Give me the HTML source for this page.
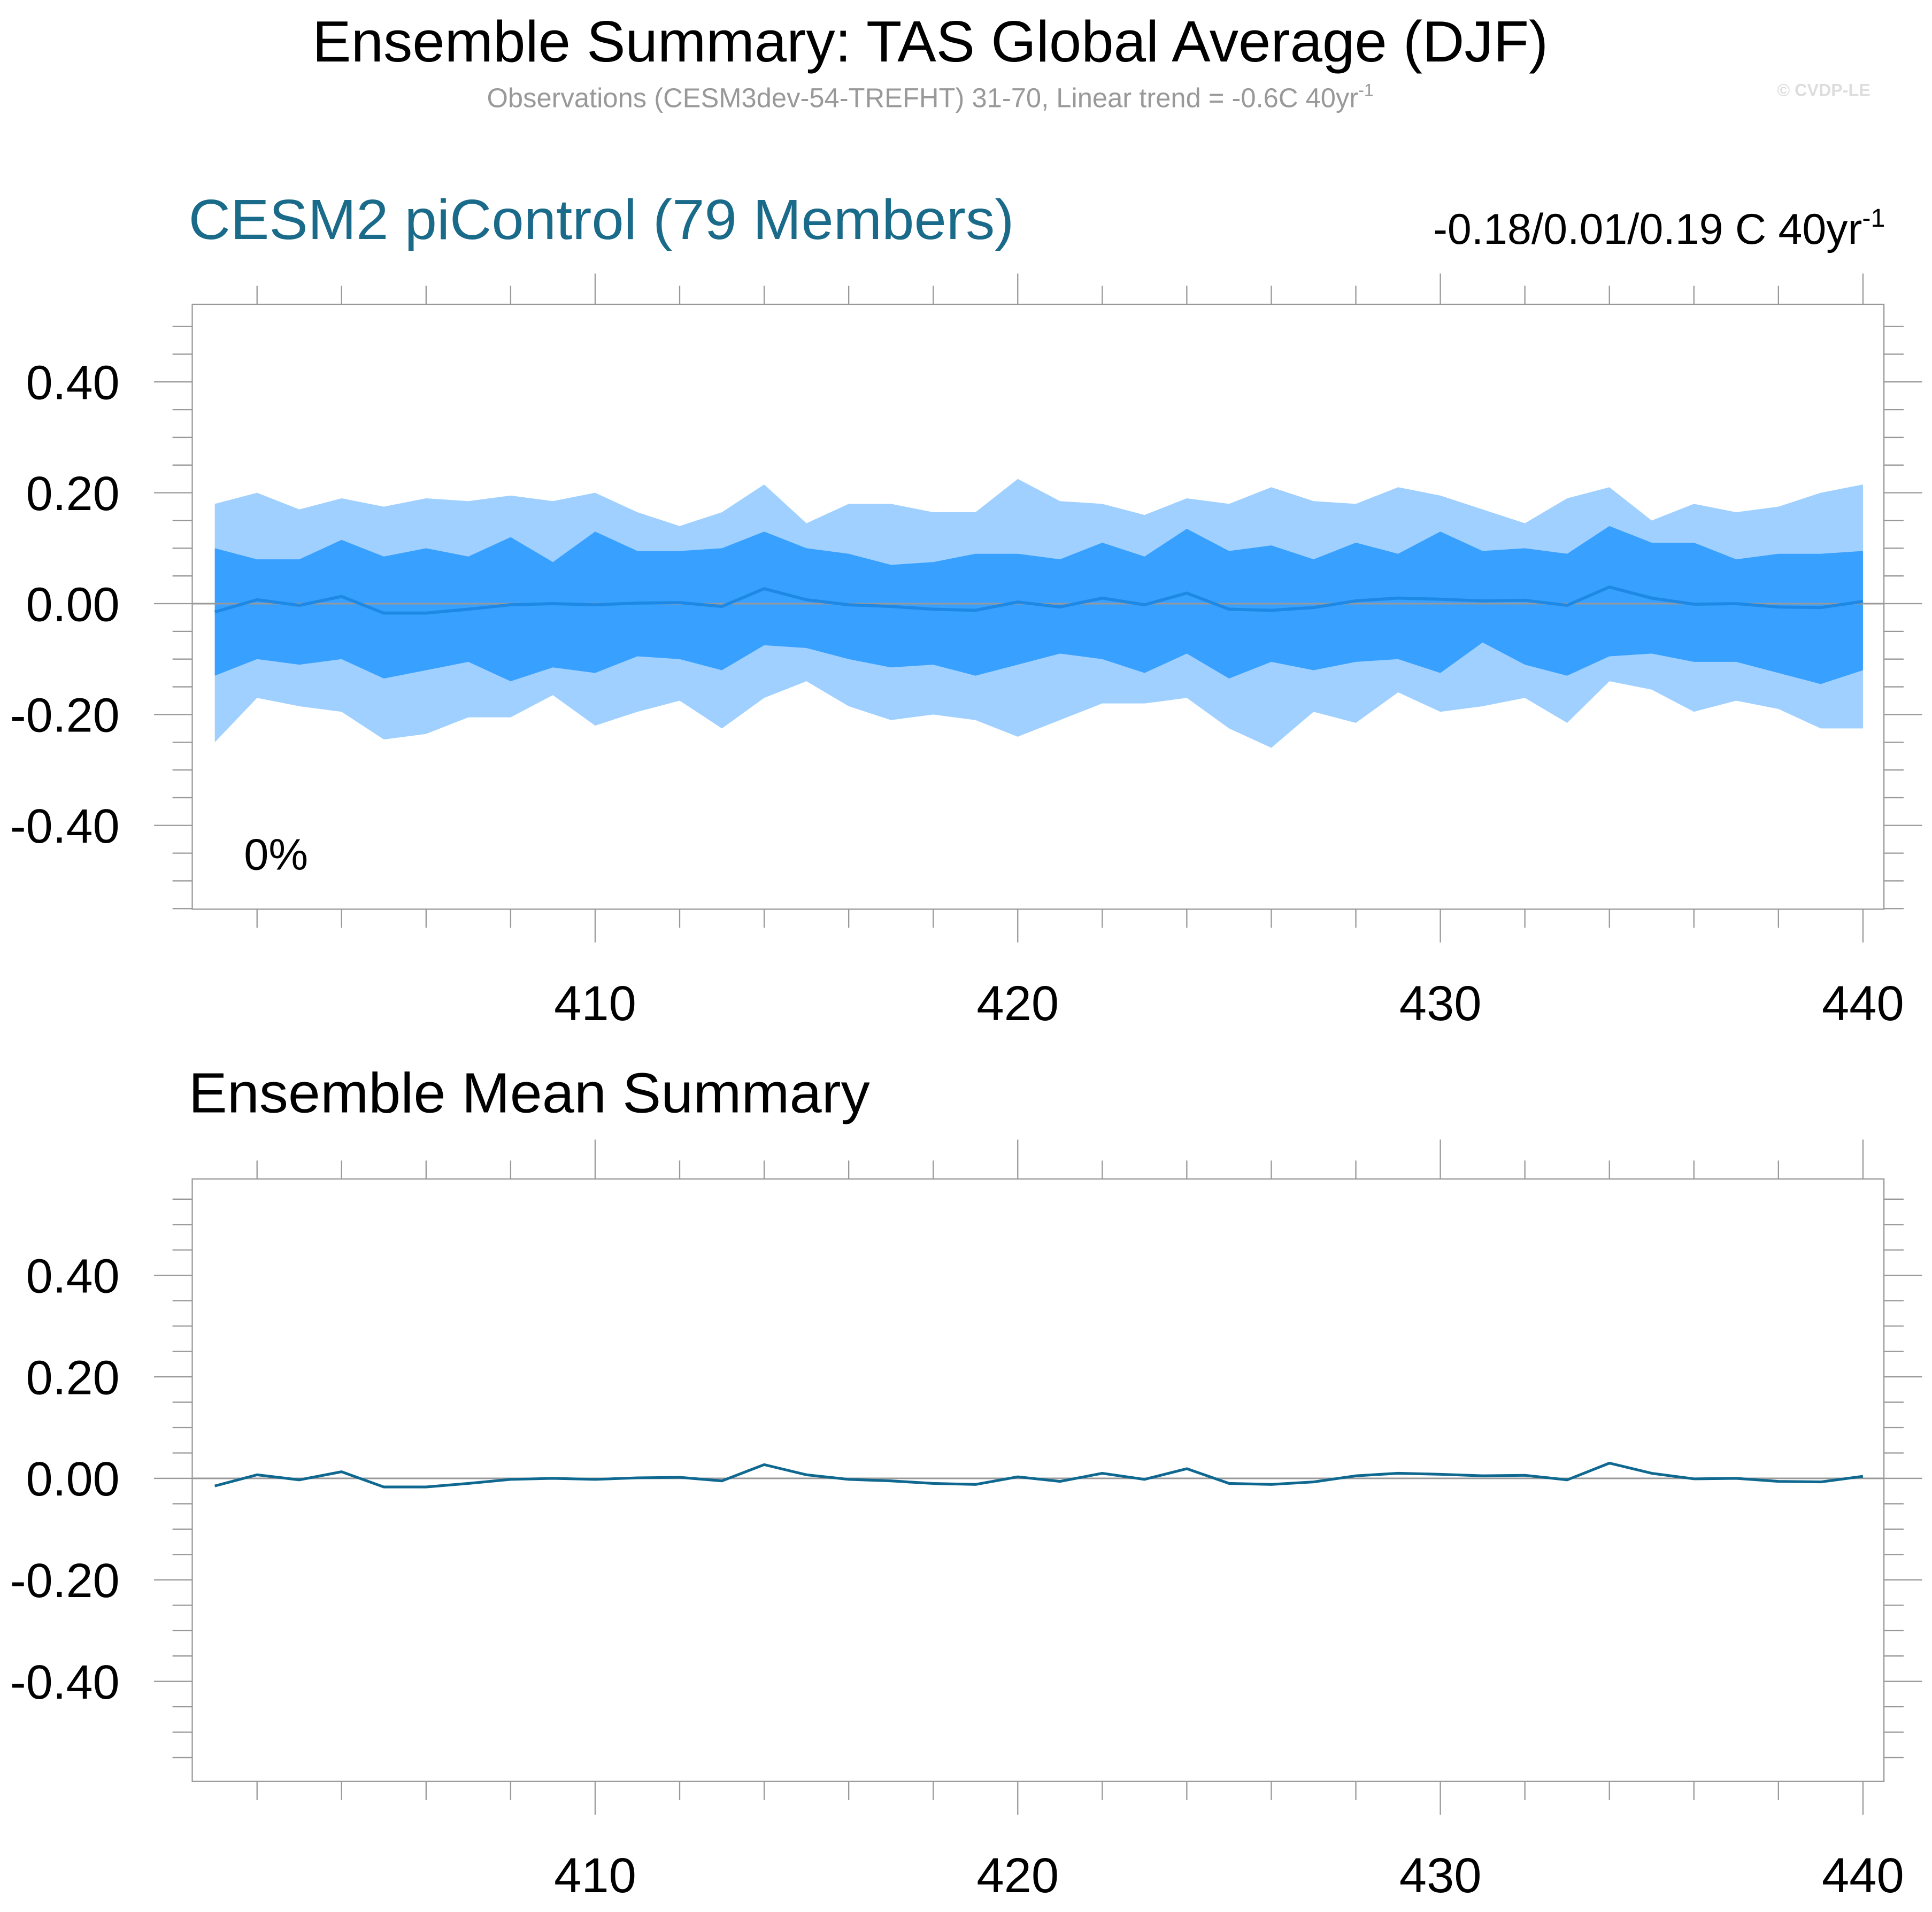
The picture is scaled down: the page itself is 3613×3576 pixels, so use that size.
<!DOCTYPE html>
<html><head><meta charset="utf-8"><style>
html,body{margin:0;padding:0;background:#fff;}
svg{display:block;font-family:"Liberation Sans",sans-serif;}
</style></head><body>
<svg id="chart" width="3613" height="3576" viewBox="0 0 1568 1552" xmlns="http://www.w3.org/2000/svg">
<text x="755" y="50" font-size="47" text-anchor="middle" textLength="1003" lengthAdjust="spacingAndGlyphs">Ensemble Summary: TAS Global Average (DJF)</text>
<text x="755" y="87" font-size="22" fill="#999" text-anchor="middle">Observations (CESM3dev-54-TREFHT) 31-70, Linear trend = -0.6C 40yr<tspan font-size="14" dy="-9">-1</tspan></text>
<text x="1518" y="78" font-size="14" fill="#ddd" font-weight="bold" text-anchor="end">© CVDP-LE</text>
<text x="153" y="194" font-size="46" fill="#1a6a8a" textLength="670" lengthAdjust="spacingAndGlyphs">CESM2 piControl (79 Members)</text>
<text x="1530" y="198" font-size="35" text-anchor="end">-0.18/0.01/0.19 C 40yr<tspan font-size="21" dy="-14">-1</tspan></text>
<text x="198" y="706" font-size="36">0%</text>
<text x="153" y="903" font-size="46" textLength="553" lengthAdjust="spacingAndGlyphs">Ensemble Mean Summary</text>
<g id="p1"></g>
<g id="p2"></g>
</svg>
<script>
const years = Array.from({length:40},(_,i)=>401+i);
const upperOuter = [0.18,0.20,0.17,0.19,0.175,0.19,0.185,0.195,0.185,0.20,0.165,0.14,0.165,0.215,0.145,0.18,0.18,0.165,0.165,0.225,0.185,0.18,0.16,0.19,0.18,0.21,0.185,0.18,0.21,0.195,0.17,0.145,0.19,0.21,0.15,0.18,0.165,0.175,0.20,0.215];
const upperInner = [0.10,0.08,0.08,0.115,0.085,0.10,0.085,0.12,0.075,0.13,0.095,0.095,0.10,0.13,0.10,0.09,0.07,0.075,0.09,0.09,0.08,0.11,0.085,0.135,0.095,0.105,0.08,0.11,0.09,0.13,0.095,0.10,0.09,0.14,0.11,0.11,0.08,0.09,0.09,0.095];
const ensMean = [-0.015,0.007,-0.003,0.013,-0.017,-0.017,-0.01,-0.002,0,-0.002,0.001,0.002,-0.005,0.027,0.007,-0.002,-0.005,-0.01,-0.012,0.003,-0.006,0.01,-0.002,0.019,-0.01,-0.012,-0.007,0.005,0.01,0.008,0.005,0.006,-0.003,0.03,0.01,-0.001,0,-0.006,-0.007,0.004];
const lowerInner = [-0.13,-0.10,-0.11,-0.10,-0.135,-0.12,-0.105,-0.14,-0.115,-0.125,-0.095,-0.10,-0.12,-0.075,-0.08,-0.10,-0.115,-0.11,-0.13,-0.11,-0.09,-0.10,-0.125,-0.09,-0.135,-0.105,-0.12,-0.105,-0.10,-0.125,-0.07,-0.11,-0.13,-0.095,-0.09,-0.105,-0.105,-0.125,-0.145,-0.12];
const lowerOuter = [-0.25,-0.17,-0.185,-0.195,-0.245,-0.235,-0.205,-0.205,-0.165,-0.22,-0.195,-0.175,-0.225,-0.17,-0.14,-0.185,-0.21,-0.20,-0.21,-0.24,-0.21,-0.18,-0.18,-0.17,-0.225,-0.26,-0.195,-0.215,-0.16,-0.195,-0.185,-0.17,-0.215,-0.14,-0.155,-0.195,-0.175,-0.19,-0.225,-0.225];
const yTicks = [0.4,0.2,0,-0.2,-0.4];
const yTickLabels = ["0.40","0.20","0.00","-0.20","-0.40"];
const xTicks = [410,420,430,440];

const NS="http://www.w3.org/2000/svg";
function mk(parent,tag,attrs){const e=document.createElementNS(NS,tag);for(const k in attrs)e.setAttribute(k,attrs[k]);parent.appendChild(e);return e;}
const L=156,R=1529;
const xs=v=>483+(v-410)*34.3;

function panel(g,top,bot,y0,scale,withBands,lineColor,lineW,topMajor){
  const ys=v=>y0-v*scale;
  const vmax=(y0-top)/scale, vmin=(y0-bot)/scale;
  if(withBands){
    const band=(up,lo,col,name)=>{
      let d=years.map((y,i)=>(i?'L':'M')+xs(y)+','+ys(up[i])).join('');
      for(let i=years.length-1;i>=0;i--) d+='L'+xs(years[i])+','+ys(lo[i]);
      const p=mk(g,'path',{d:d+'Z',fill:col});
      
      
    };
    band(upperOuter,lowerOuter,'#9fd0ff','outer-spread-band');
    band(upperInner,lowerInner,'#38a0ff','inner-spread-band');
  }
  const z=mk(g,'line',{x1:L,x2:R,y1:ys(0),y2:ys(0),stroke:'#999','stroke-width':1.3});
  
  
  const pl=mk(g,'polyline',{points:years.map((y,i)=>xs(y)+','+ys(ensMean[i])).join(' '),fill:'none',stroke:lineColor,'stroke-width':lineW,'stroke-linejoin':'round'});
  
  
  const box=mk(g,'rect',{x:L,y:top,width:R-L,height:bot-top,fill:'none',stroke:'#999','stroke-width':1});
  
  
  for(let v=-0.6;v<=0.6001;v+=0.05){
    const vv=Math.round(v*100)/100;
    if(vv<vmin||vv>vmax) continue;
    const major=Math.abs(Math.round(vv*10)-vv*10)<1e-6 && Math.round(vv*10)%2===0;
    const len=major?31:16;
    const y=ys(vv);
    const t1=mk(g,'line',{x1:L-len,x2:L,y1:y,y2:y,stroke:'#999','stroke-width':1});
    
    
    const t2=mk(g,'line',{x1:R,x2:R+len,y1:y,y2:y,stroke:'#999','stroke-width':1});
    
    
  }
  yTicks.forEach((v,i)=>{
    const t=mk(g,'text',{x:97,y:ys(v)+14,'font-size':39,'text-anchor':'end'});
    t.textContent=yTickLabels[i];
    
    
  });
  for(let yr=402;yr<=440;yr+=2){
    const major=yr%10===0;
    const x=xs(yr);
    const a=mk(g,'line',{x1:x,x2:x,y1:top-(major?topMajor:15),y2:top,stroke:'#999','stroke-width':1});
    
    
    const b=mk(g,'line',{x1:x,x2:x,y1:bot,y2:bot+(major?27:15),stroke:'#999','stroke-width':1});
    
    
  }
  xTicks.forEach(v=>{
    const t=mk(g,'text',{x:xs(v),y:bot+90,'font-size':40,'text-anchor':'middle'});
    t.textContent=String(v);
    
    
  });
}
panel(document.getElementById('p1'),247,738,490,450,true,'#1e88e5',2.5,25);
panel(document.getElementById('p2'),957,1446,1200,412,false,'#0f6890',2.2,32);
</script>
</body></html>
